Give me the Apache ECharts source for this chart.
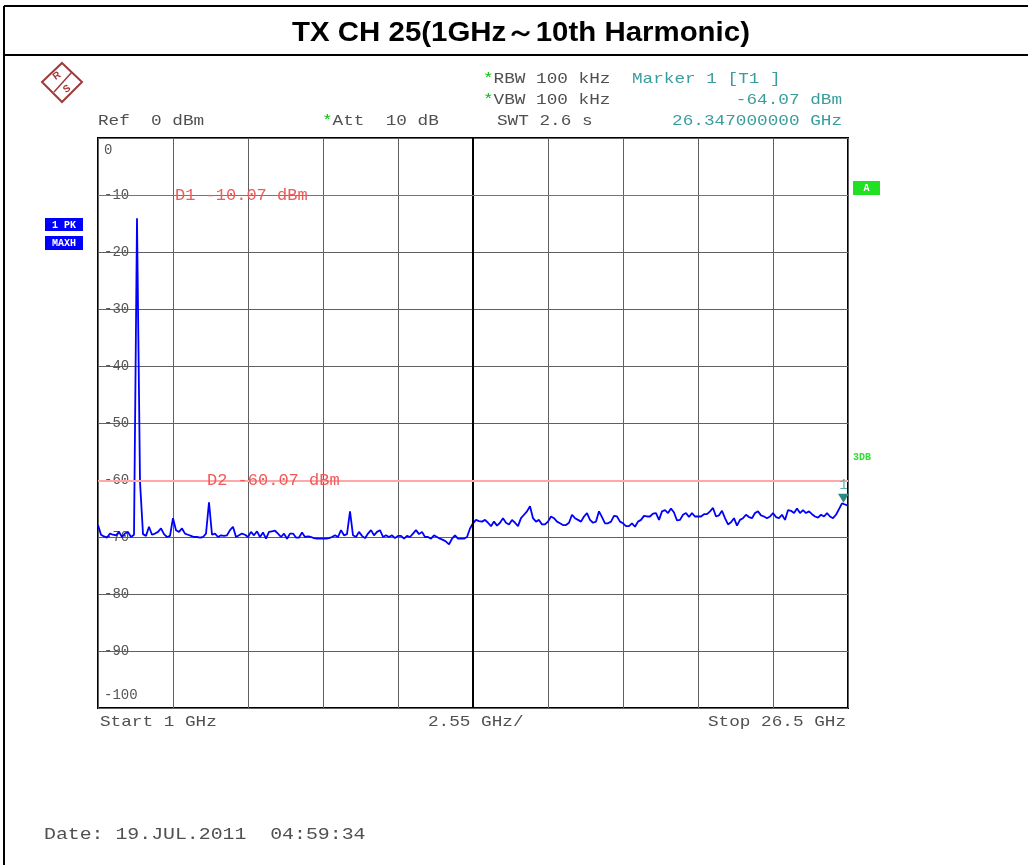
<!DOCTYPE html>
<html>
<head>
<meta charset="utf-8">
<script src="https://cdn.jsdelivr.net/npm/echarts@6/dist/echarts.min.js"></script>
<style>
  html, body { margin: 0; padding: 0; background: #fff; }
  #chart { width: 1028px; height: 865px; }
</style>
</head>
<body>
<div id="chart"></div>
<script>
// Spectrum analyzer sweep: TX channel 25 spurious scan, 1 GHz to 26.5 GHz
const chartTitle = 'TX CH 25(1GHz～10th Harmonic)';
const startGHz = 1;
const stopGHz = 26.5;
const spanPerDivGHz = 2.55;
const sweepStepGHz = 0.102;

// Max-hold trace levels (dBm), one per sweep bin
const traceLevels = [
  -67.9, -69.6, -69.9, -70.1, -69.4, -69.6, -69.7, -69.1, -70.0, -69.4,
  -69.1, -70.0, -69.6, -14.1, -60.3, -69.5, -69.8, -68.2, -69.6, -69.4,
  -69.1, -68.5, -69.5, -70.0, -69.8, -66.7, -68.8, -69.1, -68.5, -69.4,
  -69.6, -69.8, -70.0, -70.0, -70.1, -70.0, -69.4, -63.9, -69.6, -69.4,
  -70.0, -69.7, -69.8, -69.7, -68.8, -68.2, -70.0, -69.7, -69.4, -69.6,
  -70.0, -69.1, -69.7, -69.0, -70.0, -69.2, -70.3, -69.1, -69.0, -68.9,
  -69.4, -70.0, -69.4, -70.3, -69.4, -69.4, -70.1, -70.1, -69.2, -70.0,
  -69.9, -70.0, -70.2, -70.3, -70.3, -70.3, -70.3, -70.2, -70.0, -69.7,
  -70.0, -68.8, -69.7, -69.5, -65.5, -69.7, -70.0, -69.1, -69.8, -70.2,
  -69.4, -68.8, -69.7, -69.1, -68.8, -70.0, -69.7, -70.0, -69.7, -70.2,
  -69.8, -69.8, -70.3, -69.8, -70.0, -69.4, -68.8, -69.5, -69.1, -70.0,
  -70.0, -70.3, -69.7, -70.0, -70.3, -70.5, -70.8, -71.3, -70.3, -69.7,
  -70.3, -70.3, -70.3, -70.0, -68.5, -67.6, -67.0, -67.2, -67.3, -67.0,
  -67.5, -68.1, -67.3, -68.0, -67.5, -66.7, -67.5, -67.8, -67.0, -67.5,
  -68.1, -66.7, -66.1, -65.5, -64.6, -66.7, -67.3, -67.0, -67.8, -67.8,
  -67.3, -66.4, -66.7, -67.3, -67.6, -67.9, -67.9, -67.5, -66.1, -66.7,
  -67.0, -67.3, -66.4, -65.8, -67.0, -67.5, -67.3, -65.5, -66.5, -67.6,
  -67.6, -67.3, -66.3, -66.4, -67.3, -67.6, -68.1, -68.1, -67.6, -68.2,
  -67.3, -67.0, -66.3, -66.4, -66.4, -65.9, -65.8, -67.0, -65.5, -65.3,
  -65.8, -65.0, -65.7, -67.1, -67.0, -66.1, -65.8, -66.5, -65.8, -66.4,
  -66.4, -66.4, -66.0, -66.0, -65.5, -64.9, -66.4, -66.2, -65.4, -66.7,
  -67.8, -67.4, -66.7, -68.0, -67.0, -66.7, -66.1, -66.5, -66.7, -65.8,
  -65.5, -66.2, -66.4, -66.7, -66.4, -65.8, -66.5, -66.7, -66.1, -67.0,
  -65.3, -65.4, -65.8, -65.0, -65.8, -65.3, -65.8, -65.5, -66.0, -66.4,
  -66.6, -66.1, -66.4, -65.8, -66.4, -66.7, -66.1, -65.1, -64.1, -64.3,
  -64.5
];

const yTicks = [0, -10, -20, -30, -40, -50, -60, -70, -80, -90, -100];
const yTickLabels = ['0', '-10', '-20', '-30', '-40', '-50', '-60', '-70', '-80', '-90', '-100'];

// Display lines
const displayLineNames = ['D1', 'D2'];
const displayLineLevels = [-10.07, -60.07];

// Marker 1
const markerFreqGHz = 26.347;
const markerLevelDbm = -64.07;

const mono = '"Liberation Mono", "DejaVu Sans Mono", monospace';
const traceData = traceLevels.map((v, i) => [startGHz + i * sweepStepGHz, v]);
const centerGHz = (startGHz + stopGHz) / 2;

const grey = '#505050';
const teal = '#3a9d9d';
const gridColor = '#606060';

function txt(x, y, text, o) {
  o = o || {};
  return {
    type: 'text', x: x, y: y, scaleX: o.sx || 1.18, z: 10,
    style: {
      text: text,
      font: o.font || ('15px ' + mono),
      fill: o.fill || grey,
      textAlign: o.align || 'left',
      textVerticalAlign: 'middle'
    }
  };
}

const chart = echarts.init(document.getElementById('chart'));

const option = {
  animation: false,
  backgroundColor: '#fff',
  grid: {
    left: 98, top: 138, width: 750, height: 570,
    show: true, borderColor: '#000', borderWidth: 2
  },
  xAxis: [
    { type: 'value', min: startGHz, max: stopGHz, show: false },
    {
      type: 'value', min: 0, max: 10, interval: 1,
      axisLine: { show: false }, axisTick: { show: false }, axisLabel: { show: false },
      splitLine: { show: true, lineStyle: { color: gridColor, width: 1 } }
    }
  ],
  yAxis: {
    type: 'value', min: -100, max: 0, interval: 10,
    axisLine: { show: false }, axisTick: { show: false },
    axisLabel: {
      inside: true, margin: 6, color: '#555', fontFamily: mono, fontSize: 14,
      verticalAlignMaxLabel: 'top', verticalAlignMinLabel: 'bottom',
      formatter: function (v) {
        const k = yTicks.indexOf(v);
        if (k < 0) return '';
        if (v === 0) return '{top|' + yTickLabels[k] + '}';
        if (v === -100) return '{bot|' + yTickLabels[k] + '}';
        return yTickLabels[k];
      },
      rich: {
        top: { color: '#555', fontFamily: mono, fontSize: 14, padding: [5, 0, 0, 0] },
        bot: { color: '#555', fontFamily: mono, fontSize: 14, padding: [0, 0, 6, 0] }
      }
    },
    splitLine: { show: true, lineStyle: { color: gridColor, width: 1 } }
  },
  series: [
    {
      // centre graticule line
      type: 'line', xAxisIndex: 0, data: [], z: 1,
      markLine: {
        silent: true, symbol: 'none', animation: false,
        lineStyle: { color: '#000', width: 2, type: 'solid' },
        label: { show: false },
        data: [{ xAxis: centerGHz }]
      }
    },
    {
      type: 'line', xAxisIndex: 0, data: traceData, z: 3,
      showSymbol: false, symbol: 'none',
      lineStyle: { color: '#0000ff', width: 1.8 },
      markLine: {
        silent: true, symbol: 'none', animation: false,
        data: displayLineLevels.map(function (lv, i) {
          return {
            yAxis: lv,
            lineStyle: i === 0
              ? { color: '#ff3c3c', width: 1, type: 'solid' }
              : { color: '#ffa8a8', width: 2, type: 'solid' },
            label: {
              show: true, position: 'insideStartTop', distance: 0,
              offset: i === 0 ? [77, 9] : [109, 9],
              color: '#f05a5a', fontFamily: mono, fontSize: 17,
              formatter: displayLineNames[i] + ' ' + lv.toFixed(2) + ' dBm'
            }
          };
        })
      },
      markPoint: {
        silent: true, animation: false,
        symbol: 'path://M0,0 L10,0 L5,9 Z', symbolSize: [11, 9], symbolOffset: [0, -5],
        itemStyle: { color: '#2a8a80' },
        label: { show: true, position: 'top', distance: 1, formatter: '1', color: '#5fb0b0', fontFamily: mono, fontSize: 14 },
        data: [{ coord: [markerFreqGHz, markerLevelDbm], value: markerLevelDbm }]
      }
    }
  ],
  graphic: [
    // frame
    { type: 'line', shape: { x1: 4, y1: 6, x2: 1028, y2: 6 }, style: { stroke: '#000', lineWidth: 2 } },
    { type: 'line', shape: { x1: 4, y1: 55, x2: 1028, y2: 55 }, style: { stroke: '#000', lineWidth: 2 } },
    { type: 'line', shape: { x1: 4, y1: 6, x2: 4, y2: 865 }, style: { stroke: '#000', lineWidth: 2 } },
    {
      type: 'text', x: 521, y: 34, scaleX: 1.09,
      style: { text: chartTitle, font: 'bold 27px "Liberation Sans", Arial, sans-serif', fill: '#000', textAlign: 'center', textVerticalAlign: 'middle' }
    },
    // R&S logo
    { type: 'polygon', shape: { points: [[62, 63], [82, 82], [62, 102], [42, 82]] }, style: { fill: 'none', stroke: '#a03a3a', lineWidth: 2 } },
    { type: 'line', shape: { x1: 54, y1: 92, x2: 72, y2: 72 }, style: { stroke: '#a03a3a', lineWidth: 1.5 } },
    { type: 'text', x: 57, y: 76, rotation: 0.6, style: { text: 'R', font: 'bold 10px sans-serif', fill: '#a03a3a', textAlign: 'center', textVerticalAlign: 'middle' } },
    { type: 'text', x: 67, y: 89, rotation: 0.6, style: { text: 'S', font: 'bold 10px sans-serif', fill: '#a03a3a', textAlign: 'center', textVerticalAlign: 'middle' } },
    // header settings
    txt(483, 79, '*', { fill: '#00c000' }),
    txt(493.6, 79, 'RBW 100 kHz'),
    txt(632, 79, 'Marker 1 [T1 ]', { fill: teal }),
    txt(483, 100, '*', { fill: '#00c000' }),
    txt(493.6, 100, 'VBW 100 kHz'),
    txt(842, 100, markerLevelDbm.toFixed(2) + ' dBm', { fill: teal, align: 'right' }),
    txt(98, 121, 'Ref  0 dBm'),
    txt(322, 121, '*', { fill: '#00c000' }),
    txt(332.6, 121, 'Att  10 dB'),
    txt(497, 121, 'SWT 2.6 s'),
    txt(842, 121, markerFreqGHz.toFixed(9) + ' GHz', { fill: teal, align: 'right' }),
    // trace info boxes
    { type: 'rect', shape: { x: 45, y: 218, width: 38, height: 13 }, style: { fill: '#0000ff' } },
    { type: 'rect', shape: { x: 45, y: 236, width: 38, height: 14 }, style: { fill: '#0000ff' } },
    txt(64, 225, '1 PK', { fill: '#fff', align: 'center', font: 'bold 10px ' + mono, sx: 1 }),
    txt(64, 243, 'MAXH', { fill: '#fff', align: 'center', font: 'bold 10px ' + mono, sx: 1 }),
    { type: 'rect', shape: { x: 853, y: 181, width: 27, height: 14 }, style: { fill: '#22e022' } },
    txt(866.5, 188, 'A', { fill: '#fff', align: 'center', font: 'bold 10px ' + mono, sx: 1 }),
    txt(853, 457, '3DB', { fill: '#33dd33', font: 'bold 10px ' + mono, sx: 1 }),
    // frequency axis annotations
    txt(100, 722, 'Start ' + startGHz + ' GHz'),
    txt(428, 722, spanPerDivGHz + ' GHz/'),
    txt(846, 722, 'Stop ' + stopGHz + ' GHz', { align: 'right' }),
    // timestamp
    txt(44, 835, 'Date: 19.JUL.2011  04:59:34', { font: '16px ' + mono, sx: 1.24 })
  ]
};

chart.setOption(option);
</script>
</body>
</html>
